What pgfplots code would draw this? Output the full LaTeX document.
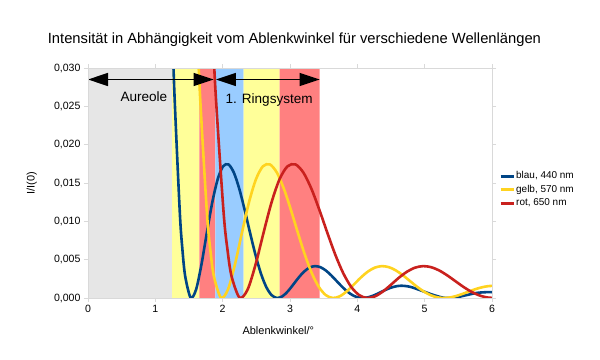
\documentclass[border=0pt]{standalone}
\usepackage{fontspec}
\setmainfont{Liberation Sans}
\usepackage{pgfplots}
\pgfplotsset{compat=1.18}
\usetikzlibrary{arrows.meta}
\definecolor{bandgray}{HTML}{E6E6E6}
\definecolor{bandyellow}{HTML}{FFFF99}
\definecolor{bandred}{HTML}{FF8080}
\definecolor{bandblue}{HTML}{99CCFF}
\definecolor{cblue}{HTML}{004586}
\definecolor{cyellow}{HTML}{FFD320}
\definecolor{cred}{HTML}{C9211E}
\definecolor{axgray}{HTML}{D9D9D9}
\begin{document}
\begin{tikzpicture}
\useasboundingbox (0,0) rectangle (600bp,360bp);
\begin{axis}[
  at={(88bp,62bp)}, anchor=south west,
  scale only axis, width=404bp, height=230bp,
  xmin=0, xmax=6, ymin=0, ymax=0.03,
  xtick={0,1,2,3,4,5,6},
  ytick={0,0.005,0.01,0.015,0.02,0.025,0.03},
  scaled y ticks=false,
  /pgf/number format/assume math mode=true,
  yticklabel style={/pgf/number format/.cd, fixed, fixed zerofill, precision=3, use comma},
  ticklabel style={font=\fontsize{10.6}{12}\selectfont},
  tick align=outside, major tick length=4bp,
  tick style={axgray, line width=0.8bp},
  axis line style={axgray, line width=0.8bp},
  axis on top,
  xlabel={Ablenkwinkel/°},
  ylabel={I/I(0)},
  xlabel style={at={(axis description cs:0.471,-0.143)}, anchor=center, font=\fontsize{11}{13}\selectfont},
  ylabel style={at={(axis description cs:-0.139,0.5)}, anchor=center, font=\fontsize{11}{13}\selectfont},
  title={Intensität in Abhängigkeit vom Ablenkwinkel für verschiedene Wellenlängen},
  title style={at={(axis description cs:0.511,1.097)}, anchor=center, font=\fontsize{14.8}{17}\selectfont},
  legend style={at={(axis description cs:1.0,0.471)}, anchor=west, xshift=4bp, draw=none, fill=none,
    font=\fontsize{10}{12}\selectfont, row sep=2bp,
    nodes={inner sep=1bp, text height=7.5bp, text depth=2bp}},
  legend cell align=left,
  legend image code/.code={\draw[line width=3bp] (0bp,0bp) -- (13bp,0bp);},
  clip=true,
]
% background bands
\addplot[draw=none, fill=bandgray, forget plot] coordinates {(0,0) (0,0.03) (1.25,0.03) (1.25,0)} \closedcycle;
\addplot[draw=none, fill=bandyellow, forget plot] coordinates {(1.25,0) (1.25,0.03) (1.653,0.03) (1.653,0)} \closedcycle;
\addplot[draw=none, fill=bandred, forget plot] coordinates {(1.653,0) (1.653,0.03) (1.89,0.03) (1.89,0)} \closedcycle;
\addplot[draw=none, fill=bandblue, forget plot] coordinates {(1.89,0) (1.89,0.03) (2.311,0.03) (2.311,0)} \closedcycle;
\addplot[draw=none, fill=bandyellow, forget plot] coordinates {(2.311,0) (2.311,0.03) (2.846,0.03) (2.846,0)} \closedcycle;
\addplot[draw=none, fill=bandred, forget plot] coordinates {(2.846,0) (2.846,0.03) (3.44,0.03) (3.44,0)} \closedcycle;
% blue 440 nm
\addplot[cblue, line width=2.6bp, smooth, tension=0.5] coordinates {
(1.2034,0.0511) (1.2435,0.03768) (1.2836,0.02667) (1.3638,0.01111) (1.4039,0.00616) (1.4440,0.002815)
(1.5243,0.0000454) (1.6045,0.001089) (1.6847,0.004356) (1.7649,0.008497) (1.8452,0.012447)
(1.9254,0.015469) (2.0056,0.017171) (2.0858,0.017424) (2.1661,0.016356) (2.2463,0.014255)
(2.3265,0.0115) (2.4067,0.008507) (2.4870,0.005644) (2.5672,0.003221) (2.6474,0.001435)
(2.7276,0.000368) (2.8079,0.0000018) (2.8881,0.000228) (2.9683,0.000877) (3.0485,0.001755)
(3.1288,0.002667) (3.2090,0.00344) (3.2892,0.00396) (3.3694,0.004157) (3.4497,0.004024)
(3.5299,0.003603) (3.6101,0.002971) (3.6903,0.002234) (3.7706,0.001493) (3.8508,0.000845)
(3.9310,0.000359) (4.0112,0.0000757) (4.0914,0.0000017) (4.1717,0.000114) (4.2519,0.000365)
(4.3321,0.000693) (4.4123,0.001033) (4.4926,0.001326) (4.5728,0.001521) (4.6530,0.0016)
(4.7332,0.001542) (4.8135,0.001386) (4.9739,0.000889) (5.1344,0.000381) (5.2948,0.000018)
(5.4553,0.0000697) (5.6157,0.000363) (5.7762,0.000669) (5.9366,0.000767) (6.0168,0.000748)
};
\addlegendentry{blau, 440 nm}
% yellow 570 nm
\addplot[cyellow, line width=2.6bp, smooth, tension=0.5] coordinates {
(1.5584,0.0511) (1.6104,0.03768) (1.6623,0.02667) (1.7662,0.01111) (1.8182,0.00616) (1.8701,0.002815)
(1.9740,0.0000454) (2.0779,0.001089) (2.1818,0.004356) (2.2857,0.008497) (2.3896,0.012447)
(2.4935,0.015469) (2.5974,0.017171) (2.7013,0.017424) (2.8052,0.016356) (2.9091,0.014255)
(3.0130,0.0115) (3.1169,0.008507) (3.2208,0.005644) (3.3247,0.003221) (3.4286,0.001435)
(3.5325,0.000368) (3.6364,0.0000018) (3.7403,0.000228) (3.8442,0.000877) (3.9481,0.001755)
(4.0519,0.002667) (4.1558,0.00344) (4.2597,0.00396) (4.3636,0.004157) (4.4675,0.004024)
(4.5714,0.003603) (4.6753,0.002971) (4.7792,0.002234) (4.8831,0.001493) (4.9870,0.000845)
(5.0909,0.000359) (5.1948,0.0000757) (5.2987,0.0000017) (5.4026,0.000114) (5.5065,0.000365)
(5.6104,0.000693) (5.7143,0.001033) (5.8182,0.001326) (5.9221,0.001521) (6.0260,0.0016)
};
\addlegendentry{gelb, 570 nm}
% red 650 nm
\addplot[cred, line width=2.6bp, smooth, tension=0.5] coordinates {
(1.7773,0.0511) (1.8365,0.03768) (1.8957,0.02667) (2.0142,0.01111) (2.0735,0.00616) (2.1327,0.002815)
(2.2512,0.0000454) (2.3697,0.001089) (2.4882,0.004356) (2.6066,0.008497) (2.7251,0.012447)
(2.8436,0.015469) (2.9621,0.017171) (3.0806,0.017424) (3.1991,0.016356) (3.3175,0.014255)
(3.4360,0.0115) (3.5545,0.008507) (3.6730,0.005644) (3.7915,0.003221) (3.9100,0.001435)
(4.0284,0.000368) (4.1469,0.0000018) (4.2654,0.000228) (4.3839,0.000877) (4.5024,0.001755)
(4.6209,0.002667) (4.7393,0.00344) (4.8578,0.00396) (4.9763,0.004157) (5.0948,0.004024)
(5.2133,0.003603) (5.3318,0.002971) (5.4502,0.002234) (5.5687,0.001493) (5.6872,0.000845)
(5.8057,0.000359) (5.9242,0.0000757) (6.0427,0.0000017)
};
\addlegendentry{rot, 650 nm}
% arrows and labels
\draw[line width=1.5bp, {Triangle[length=20bp,width=13bp]}-{Triangle[length=20bp,width=13bp]}] (axis cs:0,0.0285) -- (axis cs:1.865,0.0285);
\draw[line width=1.5bp, {Triangle[length=20bp,width=13bp]}-{Triangle[length=20bp,width=13bp]}] (axis cs:1.90,0.0285) -- (axis cs:3.44,0.0285);
\node[font=\fontsize{13.6}{16}\selectfont] at (axis cs:0.83,0.0263) {Aureole};
\node[font=\fontsize{13.6}{16}\selectfont] at (axis cs:2.69,0.0258) {1. Ringsystem};
\end{axis}
\end{tikzpicture}
\end{document}
